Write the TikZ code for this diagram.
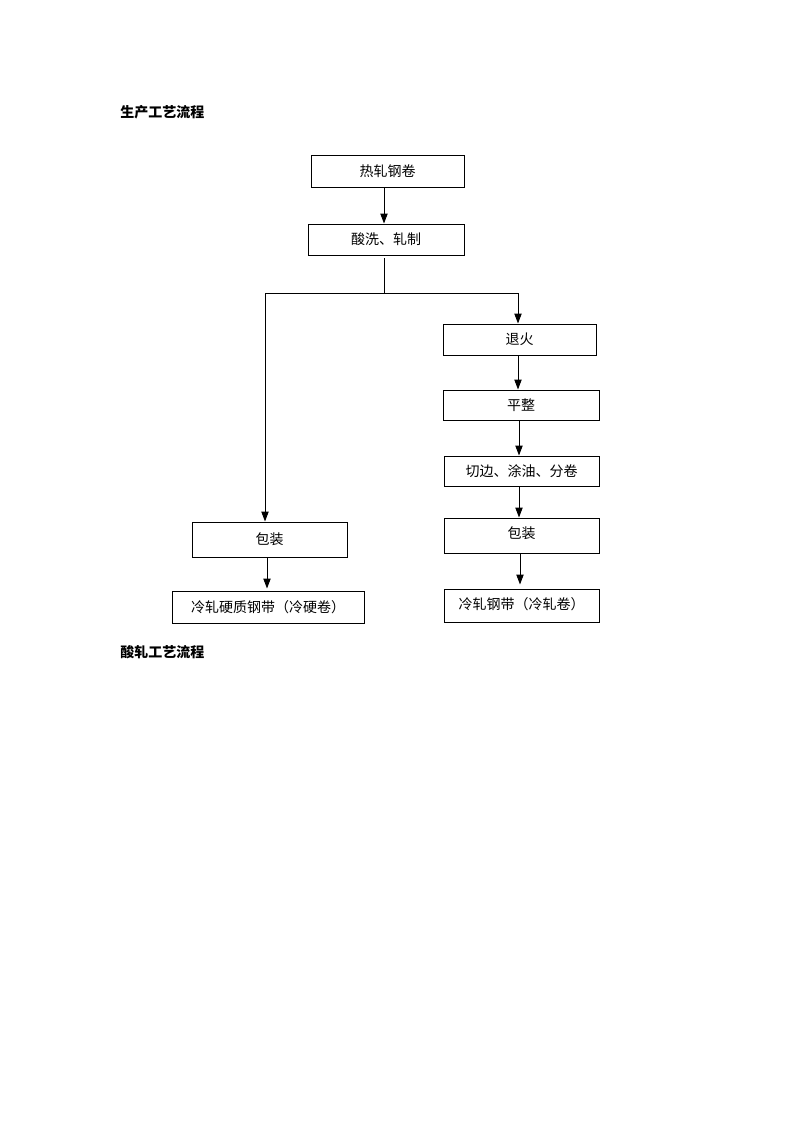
\documentclass[tikz,border=0pt]{standalone}
\usepackage{fontspec}
\newfontfamily\cjk{Noto Sans CJK SC}
\usetikzlibrary{arrows.meta,calc}
\begin{document}
\begin{tikzpicture}[x=0.75pt,y=-0.75pt,
  box/.style={draw,line width=0.75pt,inner sep=0pt,font=\cjk\fontsize{10.5pt}{12pt}\selectfont},
  head/.style={anchor=west,inner sep=0pt,font=\cjk\bfseries\fontsize{10.5pt}{12pt}\selectfont},
  arr/.style={line width=0.75pt,-{Triangle[length=7.5pt,width=5.5pt]}},
  ln/.style={line width=0.75pt}]
\useasboundingbox (0,0) rectangle (793,1122);
\node[head] (h1) at (120,112) {生产工艺流程};
\node[head] (h2) at (120,652) {酸轧工艺流程};

\node[box,minimum width=153*0.75pt,minimum height=32*0.75pt] (rj) at (387.5,171) {热轧钢卷};
\node[box,minimum width=156*0.75pt,minimum height=31*0.75pt] (sx) at (386,239.5) {酸洗、轧制};
\node[box,minimum width=153*0.75pt,minimum height=31*0.75pt] (th) at (519.5,339.5) {退火};
\node[box,minimum width=156*0.75pt,minimum height=30*0.75pt] (pz) at (521,405) {平整};
\node[box,minimum width=155*0.75pt,minimum height=30*0.75pt] (qb) at (521.5,471) {切边、涂油、分卷};
\node[box,minimum width=155*0.75pt,minimum height=35*0.75pt,text depth=5pt] (bz2) at (521.5,535.5) {包装};
\node[box,minimum width=155*0.75pt,minimum height=33*0.75pt,text depth=3pt] (lz) at (521.5,605.5) {冷轧钢带（冷轧卷）};
\node[box,minimum width=155*0.75pt,minimum height=35*0.75pt] (bz1) at (269.5,539.5) {包装};
\node[box,minimum width=192*0.75pt,minimum height=32*0.75pt] (ly) at (268,607) {冷轧硬质钢带（冷硬卷）};

\coordinate (top) at (384,258);
\coordinate (j) at (384,293);
\coordinate (jl) at (265,293);
\coordinate (jr) at (518,293);

\draw[arr] (384,187) coordinate (a1) -- (a1 |- sx.north);
\draw[ln] (top) -- (j);
\draw[ln] (jl) -- (jr);
\draw[arr] (jl) -- (jl |- bz1.north);
\draw[arr] (jr) -- (jr |- th.north);
\draw[arr] (518,355) coordinate (a2) -- (a2 |- pz.north);
\draw[arr] (519,421) coordinate (a3) -- (a3 |- qb.north);
\draw[arr] (519,487) coordinate (a4) -- (a4 |- bz2.north);
\draw[arr] (520,553) coordinate (a5) -- ($(a5 |- lz.north)+(0,-4)$);
\draw[arr] (267,557) coordinate (a6) -- ($(a6 |- ly.north)+(0,-2)$);
\end{tikzpicture}
\end{document}
